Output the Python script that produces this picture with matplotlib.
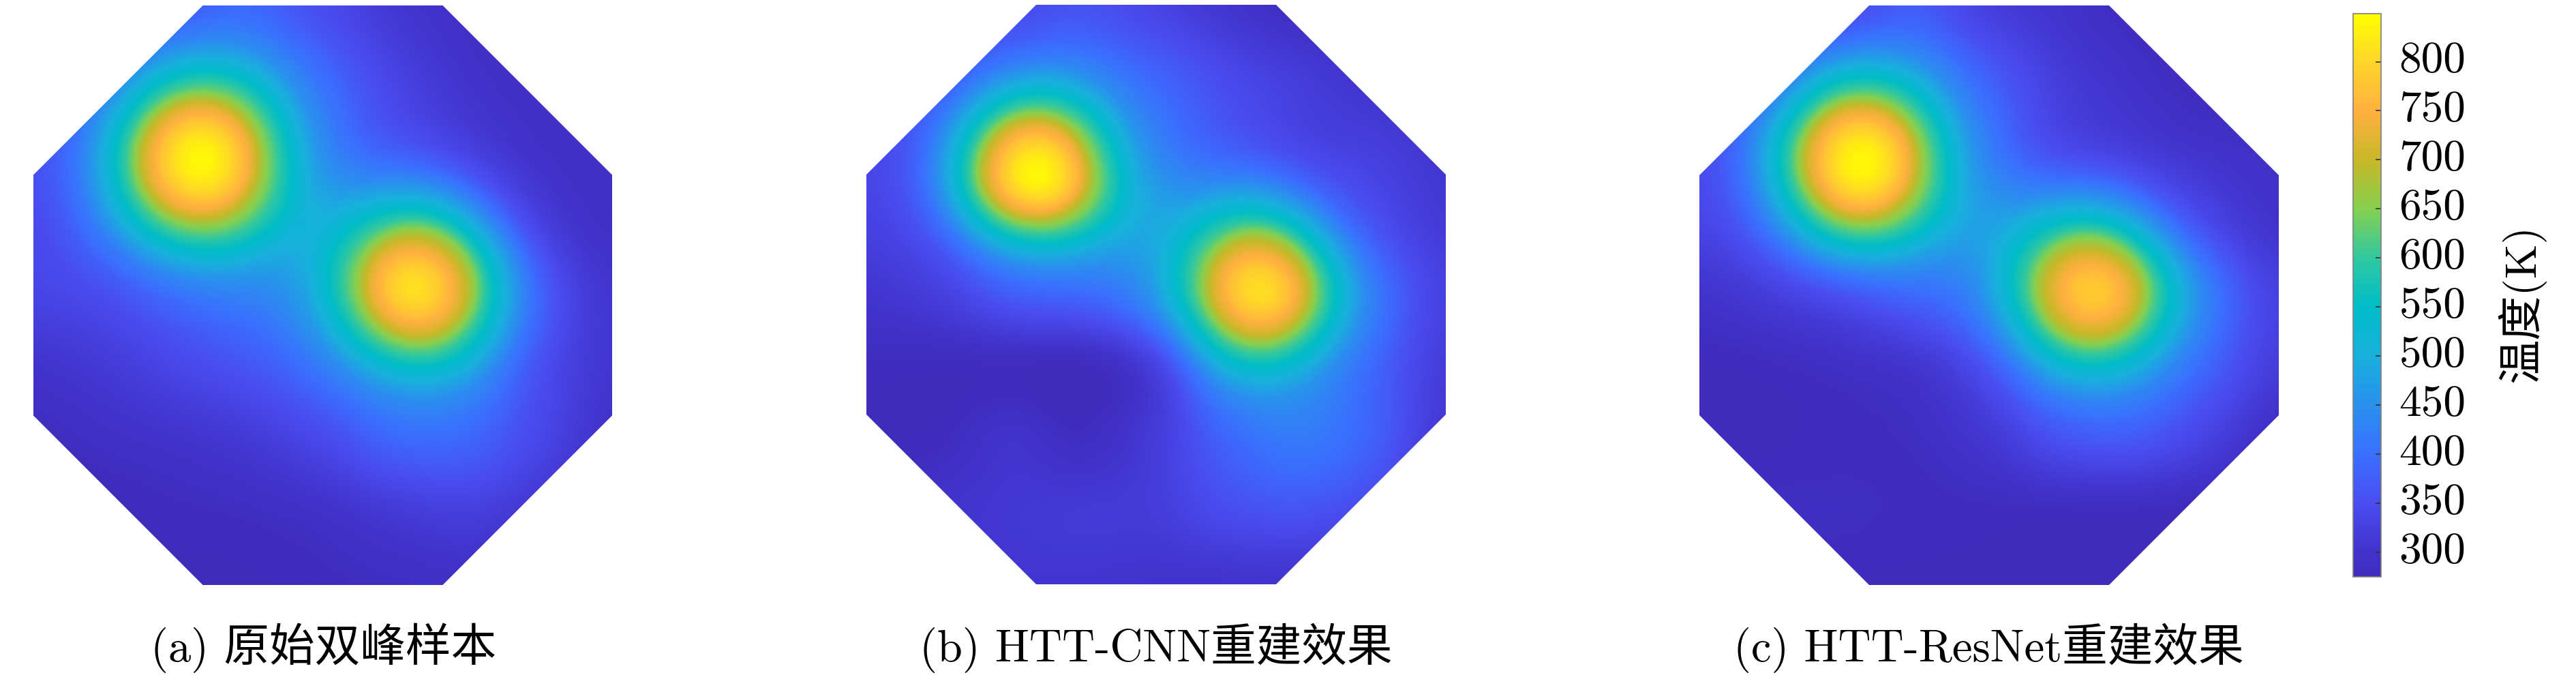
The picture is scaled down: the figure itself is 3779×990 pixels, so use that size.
import numpy as np
import matplotlib
matplotlib.use("Agg")
import matplotlib.pyplot as plt
from matplotlib.colors import LinearSegmentedColormap, Normalize
from matplotlib.patches import Polygon
from matplotlib.cm import ScalarMappable

FAMILY = ['cmr10', 'Noto Sans CJK SC', 'DejaVu Sans']
W, H = 3780, 990

captions = ['(a) 原始双峰样本', '(b) HTT-CNN重建效果', '(c) HTT-ResNet重建效果']
colorbar_ticks = [300, 350, 400, 450, 500, 550, 600, 650, 700, 750, 800]
colorbar_label = '温度(K)'
t_min, t_max = 275, 849

# colour scale
scale_temps = [275, 300, 350, 400, 450, 500, 550, 600, 650, 700, 750, 800, 849]
scale_colors = ['#402cbc', '#4233cc', '#4a4cf0', '#3a70ff', '#2a90ee', '#18b0dc', '#00bcc8',
                '#30c8a0', '#85d050', '#c8b828', '#ffb040', '#ffd52a', '#ffff00']

# temperature on a coarse 9x9 grid (peaks excluded), top row first
base_a = [[340, 350, 365, 385, 350, 310, 290, 280, 280],
          [350, 360, 400, 425, 390, 335, 300, 285, 280],
          [355, 380, 425, 445, 415, 360, 320, 295, 285],
          [345, 385, 430, 460, 450, 400, 350, 315, 290],
          [335, 350, 385, 420, 445, 445, 405, 355, 305],
          [300, 315, 340, 365, 400, 420, 410, 350, 305],
          [280, 290, 300, 315, 345, 385, 385, 340, 295],
          [275, 275, 280, 285, 295, 315, 325, 305, 285],
          [275, 275, 275, 275, 280, 285, 290, 285, 280]]
base_b = [[320, 330, 345, 360, 335, 305, 285, 280, 280],
          [335, 350, 380, 405, 385, 345, 320, 300, 290],
          [340, 365, 415, 440, 420, 370, 335, 325, 305],
          [330, 360, 425, 465, 460, 415, 375, 350, 315],
          [305, 325, 370, 390, 425, 450, 450, 400, 330],
          [280, 278, 280, 278, 320, 415, 425, 385, 320],
          [275, 280, 300, 285, 320, 385, 415, 380, 310],
          [295, 300, 310, 315, 320, 350, 360, 340, 300],
          [295, 300, 305, 305, 300, 300, 300, 285, 280]]
base_c = [[320, 330, 340, 370, 325, 300, 280, 275, 275],
          [340, 350, 395, 415, 375, 320, 295, 275, 280],
          [345, 380, 420, 440, 405, 340, 315, 300, 290],
          [335, 370, 430, 455, 440, 390, 360, 335, 300],
          [300, 320, 345, 385, 410, 430, 440, 400, 330],
          [275, 280, 290, 305, 350, 405, 415, 380, 320],
          [275, 275, 280, 285, 310, 355, 365, 330, 285],
          [280, 285, 285, 280, 280, 280, 280, 275, 275],
          [275, 275, 275, 275, 275, 275, 275, 275, 275]]
bases = [base_a, base_b, base_c]

# the two hot spots
peak_temps = [[840, 810], [840, 810], [840, 785]]
peak_u = [[0.280, 0.669], [0.285, 0.678], [0.272, 0.675]]
peak_v = [[0.262, 0.478], [0.286, 0.485], [0.264, 0.486]]
peak_wx = [[1.00, 0.95], [0.90, 0.88], [0.96, 0.93]]
peak_wy_up = [[1.00, 0.97], [0.92, 0.96], [0.96, 0.95]]
peak_wy_down = [[1.00, 0.97], [0.78, 0.92], [0.96, 0.95]]

# falloff of a hot spot with distance
ring_r = [0.00, 0.03, 0.06, 0.09, 0.12, 0.15, 0.18, 0.21, 0.25, 0.30]
ring_share = [1.00, 0.97, 0.88, 0.74, 0.52, 0.35, 0.21, 0.10, 0.03, 0.00]

panel_left = [48.5, 1271, 2493]
panel_top = [8, 7, 8]
panel_size = 850
corner = 0.293
caption_x = [475, 1696, 2917]
caption_y = 950


def smooth_up(grid, n):
    """Catmull-Rom upsampling of the coarse grid, one axis at a time."""
    def along(a, n):
        m = a.shape[0]
        t = np.linspace(0, m - 1, n)
        i = np.clip(t.astype(int), 0, m - 2)
        f = (t - i)[:, None]
        p0 = a[np.clip(i - 1, 0, m - 1)]
        p1 = a[i]
        p2 = a[i + 1]
        p3 = a[np.clip(i + 2, 0, m - 1)]
        return 0.5 * (2 * p1 + (p2 - p0) * f + (2 * p0 - 5 * p1 + 4 * p2 - p3) * f ** 2
                      + (3 * p1 - p0 - 3 * p2 + p3) * f ** 3)
    g = along(np.asarray(grid, float), n)
    return along(g.T, n).T


def build_field(k, n=500):
    field = smooth_up(bases[k], n)
    axis = np.linspace(0, 1, n)
    u, v = np.meshgrid(axis, axis)
    base = field.copy()
    for j in range(2):
        cu, cv = peak_u[k][j], peak_v[k][j]
        iu, iv = int(cu * (n - 1)), int(cv * (n - 1))
        amp = peak_temps[k][j] - base[iv, iu]
        wy = np.where(v < cv, peak_wy_up[k][j], peak_wy_down[k][j])
        r = np.hypot((u - cu) / peak_wx[k][j], (v - cv) / wy)
        field += amp * np.interp(r, ring_r, ring_share)
    return field


plt.rcParams['font.family'] = FAMILY
plt.rcParams['axes.unicode_minus'] = False
cmap = LinearSegmentedColormap.from_list(
    'temps', [((t - t_min) / (t_max - t_min), c) for t, c in zip(scale_temps, scale_colors)], N=512)
norm = Normalize(t_min, t_max)

fig = plt.figure(figsize=(W / 100, H / 100), dpi=100, facecolor='white')

for k in range(3):
    ax = fig.add_axes([panel_left[k] / W, 1 - (panel_top[k] + panel_size) / H,
                       panel_size / W, panel_size / H])
    im = ax.imshow(build_field(k), cmap=cmap, norm=norm, extent=[0, 1, 1, 0],
                   interpolation='bilinear', aspect='auto')
    c = corner
    oct_pts = [(c, 0), (1 - c, 0), (1, c), (1, 1 - c), (1 - c, 1), (c, 1), (0, 1 - c), (0, c)]
    clip = Polygon(oct_pts, closed=True, transform=ax.transData, facecolor='none', edgecolor='none')
    ax.add_patch(clip)
    im.set_clip_path(clip)
    ax.axis('off')
    fig.text(caption_x[k] / W, 1 - caption_y / H, captions[k], fontsize=48, ha='center', va='center',
             family=FAMILY, color='black')

cax = fig.add_axes([3452 / W, 1 - 846 / H, 41 / W, 826 / H])
cb = fig.colorbar(ScalarMappable(norm=norm, cmap=cmap), cax=cax)
cb.set_ticks(colorbar_ticks)
cb.ax.tick_params(direction='in', length=6, width=1.2, color='#333333', pad=19, labelsize=47)
for lab in cb.ax.get_yticklabels():
    lab.set_family(FAMILY)
    lab.set_verticalalignment('center')
cb.outline.set_edgecolor('#808080')
cb.outline.set_linewidth(1.2)
fig.text(3699 / W, 1 - 445 / H, colorbar_label, rotation=90, fontsize=47, ha='center', va='center',
         family=FAMILY, color='black')

fig.savefig('out.png', dpi=100, facecolor='white')
